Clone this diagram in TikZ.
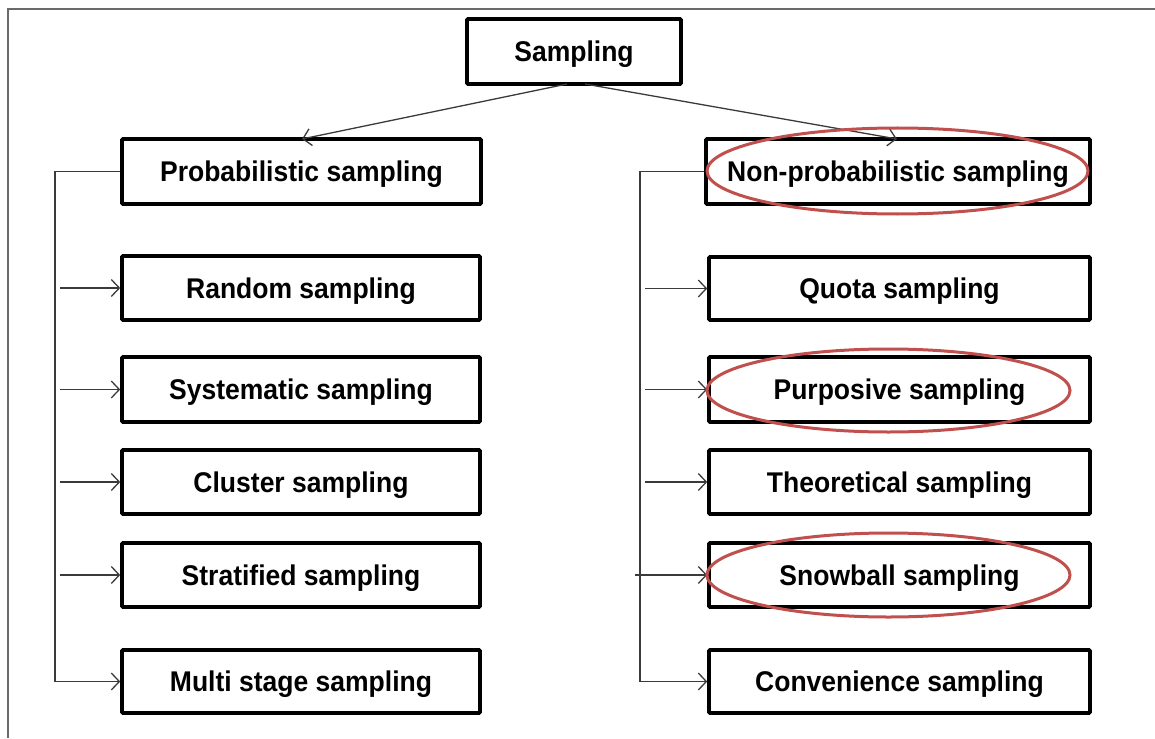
\documentclass[tikz,border=0pt]{standalone}
\usepackage{fontspec}
\setmainfont{Liberation Sans}
\newfontfamily\boxfont{Liberation Sans}[FakeStretch=0.93]
\usetikzlibrary{arrows.meta,shapes.geometric}
\definecolor{linkgray}{HTML}{3A3A3A}
\definecolor{framegray}{HTML}{6A6A6A}
\definecolor{markred}{HTML}{C0504D}
\tikzset{
  box/.style={draw=black, line width=3.6pt, rounded corners=1pt, fill=white,
    inner sep=0pt, text height=20.4pt, text depth=0pt,
    font=\boxfont\fontsize{28.5}{32}\selectfont\bfseries},
  link/.style={draw=linkgray, line width=1.3pt},
  arr/.style={link, -{Straight Barb[length=8pt,width=17pt,line width=1.3pt]}},
  ring/.style={draw=markred, line width=3pt, ellipse, inner sep=0pt}
}
\begin{document}
\begin{tikzpicture}[x=1pt,y=-1pt]
\useasboundingbox (0,0) rectangle (1155,738);
% open frame: top and left edges only
\draw[framegray, line width=1.5pt] (1155,9) -- (8,9) -- (8,738);

% root
\node[box, minimum width=214pt, minimum height=65pt] (root) at (574,51.5) {Sampling};

% probabilistic branch
\node[box, minimum width=359pt, minimum height=65pt] (prob) at (301.5,171.5) {Probabilistic sampling};
\node[box, minimum width=358pt, minimum height=64pt] (rand) at (301,288) {Random sampling};
\node[box, minimum width=358pt, minimum height=65pt] (syst) at (301,389.5) {Systematic sampling};
\node[box, minimum width=358pt, minimum height=64pt] (clus) at (301,482) {Cluster sampling};
\node[box, minimum width=358pt, minimum height=64pt] (strat) at (301,575) {Stratified sampling};
\node[box, minimum width=358pt, minimum height=63pt] (multi) at (301,681.5) {Multi stage sampling};

% non-probabilistic branch
\node[box, minimum width=384pt, minimum height=65pt] (nonp) at (898,171.5) {Non-probabilistic sampling};
\node[box, minimum width=381pt, minimum height=63pt] (quota) at (899.5,288.5) {Quota sampling};
\node[box, minimum width=381pt, minimum height=65pt] (purp) at (899.5,389.5) {Purposive sampling};
\node[box, minimum width=381pt, minimum height=64pt] (theo) at (899.5,482) {Theoretical sampling};
\node[box, minimum width=381pt, minimum height=64pt] (snow) at (899.5,575) {Snowball sampling};
\node[box, minimum width=381pt, minimum height=63pt] (conv) at (899.5,681.5) {Convenience sampling};

% root to the two families
\coordinate (rootL) at (567,84);
\coordinate (rootR) at (585,84);
\coordinate (probT) at (302,139);
\coordinate (nonpT) at (897,139);
\draw[arr] (rootL) -- (probT);
\draw[arr] (rootR) -- (nonpT);

% left trunk
\coordinate (lt) at (55,171.5);
\coordinate (lb) at (55,681.5);
\draw[link] (prob.west) -- (lt) -- (lb);
\draw[arr] (lb) -- (multi.west);
\foreach \n in {rand,syst,clus,strat}{
  \coordinate (s\n) at ([xshift=5pt]lt |- \n.west);
  \draw[arr] (s\n) -- (\n.west);
}

% right trunk
\coordinate (rt) at (640,171.5);
\coordinate (rb) at (640,681.5);
\draw[link] (nonp.west) -- (rt) -- (rb);
\draw[arr] (rb) -- (conv.west);
\foreach \n in {quota,purp,theo}{
  \coordinate (s\n) at ([xshift=5pt]rt |- \n.west);
  \draw[arr] (s\n) -- (\n.west);
}
\coordinate (ssnow) at (635,575);
\draw[arr] (ssnow) -- (snow.west);

% highlighted categories
\node[ring, minimum width=381pt, minimum height=86pt] (e1) at (897.5,171) {};
\node[ring, minimum width=363pt, minimum height=83pt] (e2) at (888.5,390.5) {};
\node[ring, minimum width=363pt, minimum height=84pt] (e3) at (888.5,575) {};
\end{tikzpicture}
\end{document}
